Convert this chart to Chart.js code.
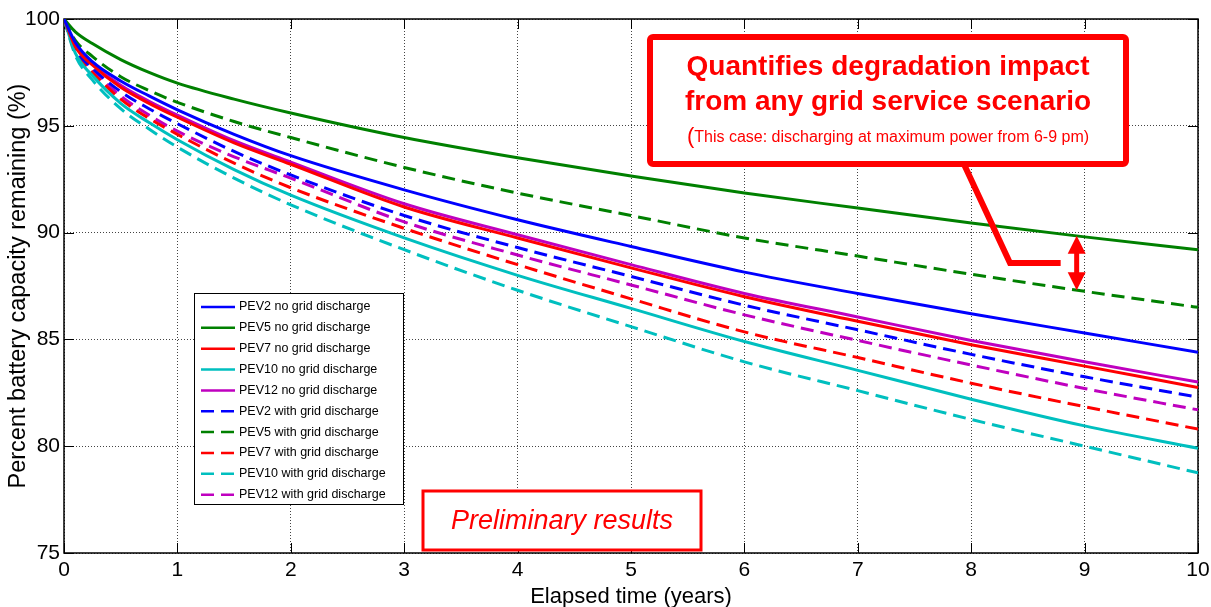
<!DOCTYPE html>
<html>
<head>
<meta charset="utf-8">
<script src="https://cdn.jsdelivr.net/npm/chart.js@4.4.1/dist/chart.umd.min.js"></script>
<style>
html, body { margin: 0; padding: 0; background: #fff; }
#wrap { width: 1211px; height: 607px; }
</style>
</head>
<body>
<div id="wrap"><canvas id="chart"></canvas></div>
<script>
const years = [0, 0.1, 0.25, 0.5, 0.75, 1, 1.5, 2, 3, 4, 5, 6, 7, 8, 9, 10];

// no grid discharge
const pev2NoGrid  = [100, 98.9, 98.0, 97.1, 96.4, 95.75, 94.6, 93.6, 92.0, 90.6, 89.35, 88.15, 87.15, 86.2, 85.3, 84.4];
const pev5NoGrid  = [100, 99.4, 98.85, 98.1, 97.5, 97.0, 96.25, 95.6, 94.45, 93.5, 92.65, 91.85, 91.15, 90.45, 89.8, 89.2];
const pev7NoGrid  = [100, 98.7, 97.85, 96.8, 96.05, 95.4, 94.2, 93.2, 91.2, 89.75, 88.35, 87.0, 85.85, 84.75, 83.75, 82.75];
const pev10NoGrid = [100, 98.4, 97.35, 96.05, 95.15, 94.35, 92.95, 91.75, 89.75, 88.0, 86.45, 84.9, 83.55, 82.2, 80.95, 79.9];
const pev12NoGrid = [100, 98.75, 97.9, 96.9, 96.15, 95.5, 94.3, 93.3, 91.35, 89.9, 88.5, 87.15, 86.05, 84.95, 83.95, 83.0];

// with grid discharge
const pev2Grid  = [100, 98.6, 97.7, 96.6, 95.8, 95.1, 93.8, 92.7, 90.8, 89.3, 87.95, 86.6, 85.45, 84.3, 83.25, 82.3];
const pev5Grid  = [100, 99.0, 98.25, 97.3, 96.65, 96.1, 95.2, 94.45, 93.05, 91.85, 90.8, 89.75, 88.9, 88.05, 87.25, 86.5];
const pev7Grid  = [100, 98.45, 97.5, 96.25, 95.35, 94.6, 93.25, 92.1, 90.2, 88.5, 86.9, 85.35, 84.15, 82.95, 81.85, 80.8];
const pev10Grid = [100, 98.3, 97.15, 95.8, 94.85, 94.0, 92.55, 91.3, 89.2, 87.3, 85.6, 83.95, 82.6, 81.25, 80.0, 78.75];
const pev12Grid = [100, 98.5, 97.6, 96.4, 95.5, 94.75, 93.55, 92.55, 90.5, 88.95, 87.55, 86.15, 84.95, 83.8, 82.7, 81.7];

const seriesLabels = [
    'PEV2 no grid discharge', 'PEV5 no grid discharge', 'PEV7 no grid discharge',
    'PEV10 no grid discharge', 'PEV12 no grid discharge',
    'PEV2 with grid discharge', 'PEV5 with grid discharge', 'PEV7 with grid discharge',
    'PEV10 with grid discharge', 'PEV12 with grid discharge'
];
const seriesValues = [pev2NoGrid, pev5NoGrid, pev7NoGrid, pev10NoGrid, pev12NoGrid,
                      pev2Grid, pev5Grid, pev7Grid, pev10Grid, pev12Grid];
const seriesColors = ['#0000ff', '#008000', '#ff0000', '#00bfbf', '#bf00bf'];

const xTicks = [0, 1, 2, 3, 4, 5, 6, 7, 8, 9, 10];
const yTicks = [75, 80, 85, 90, 95, 100];

// double arrow between PEV5 curves
const arrowYear = 8.93;
const arrowTop = 89.85;
const arrowBottom = 87.3;

const FONT = '"Liberation Sans", Arial, Helvetica, sans-serif';
Chart.defaults.font.family = FONT;

function strokeLine(ctx, x1, y1, x2, y2) {
    ctx.beginPath();
    ctx.moveTo(x1, y1);
    ctx.lineTo(x2, y2);
    ctx.stroke();
}

// box around the plot and inward tick marks
const frameTicks = {
    id: 'frameTicks',
    beforeDatasetsDraw(chart) {
        const { ctx, chartArea: a, scales: { x, y } } = chart;
        ctx.save();
        ctx.strokeStyle = '#000';
        ctx.lineWidth = 1;
        xTicks.forEach(v => {
            const px = Math.round(x.getPixelForValue(v)) + 0.5;
            strokeLine(ctx, px, a.bottom, px, a.bottom - 10);
            strokeLine(ctx, px, a.top, px, a.top + 10);
        });
        yTicks.forEach(v => {
            const py = Math.round(y.getPixelForValue(v)) + 0.5;
            strokeLine(ctx, a.left, py, a.left + 10, py);
            strokeLine(ctx, a.right, py, a.right - 10, py);
        });
        ctx.lineWidth = 1.5;
        ctx.strokeRect(a.left, a.top, a.right - a.left, a.bottom - a.top);
        ctx.restore();
    }
};

const annotations = {
    id: 'annotations',
    afterDraw(chart) {
        const { ctx, scales: { x, y } } = chart;
        ctx.save();

        // legend box
        const lx = 194, ly = 293, lw = 209, lh = 211;
        ctx.fillStyle = '#fff';
        ctx.fillRect(lx, ly, lw, lh);
        ctx.strokeStyle = '#000';
        ctx.lineWidth = 1;
        ctx.strokeRect(lx + 0.5, ly + 0.5, lw, lh);
        chart.data.datasets.forEach((ds, i) => {
            const yy = ly + 14 + i * 20.85;
            ctx.strokeStyle = ds.borderColor;
            ctx.lineWidth = 2.5;
            ctx.setLineDash(ds.borderDash && ds.borderDash.length ? [13, 7] : []);
            strokeLine(ctx, 201, yy, 235, yy);
            ctx.setLineDash([]);
            ctx.fillStyle = '#000';
            ctx.font = '12.5px ' + FONT;
            ctx.textAlign = 'left';
            ctx.textBaseline = 'middle';
            ctx.fillText(ds.label, 239, yy);
        });

        // double headed arrow
        const ax = x.getPixelForValue(arrowYear);
        const at = y.getPixelForValue(arrowTop);
        const ab = y.getPixelForValue(arrowBottom);
        const mid = (at + ab) / 2;
        ctx.fillStyle = '#ff0000';
        ctx.strokeStyle = '#ff0000';
        ctx.lineWidth = 5;
        strokeLine(ctx, ax, at + 14, ax, ab - 14);
        ctx.beginPath();
        ctx.moveTo(ax, at); ctx.lineTo(ax - 9, at + 18); ctx.lineTo(ax + 9, at + 18); ctx.closePath();
        ctx.fill();
        ctx.beginPath();
        ctx.moveTo(ax, ab); ctx.lineTo(ax - 9, ab - 18); ctx.lineTo(ax + 9, ab - 18); ctx.closePath();
        ctx.fill();

        // callout line
        ctx.lineWidth = 6;
        ctx.lineJoin = 'miter';
        ctx.beginPath();
        ctx.moveTo(962, 160);
        ctx.lineTo(1010, mid);
        ctx.lineTo(ax - 16, mid);
        ctx.stroke();

        // main note box
        const bx = 650, by = 37, bw = 476, bh = 127;
        ctx.fillStyle = '#fff';
        ctx.beginPath();
        ctx.roundRect(bx, by, bw, bh, 3);
        ctx.fill();
        ctx.lineWidth = 6;
        ctx.strokeStyle = '#ff0000';
        ctx.stroke();
        ctx.fillStyle = '#ff0000';
        ctx.textAlign = 'center';
        ctx.textBaseline = 'middle';
        ctx.font = 'bold 28px ' + FONT;
        ctx.fillText('Quantifies degradation impact', bx + bw / 2, 67);
        ctx.fillText('from any grid service scenario', bx + bw / 2, 102);
        ctx.font = '16px ' + FONT;
        const sub = 'This case: discharging at maximum power from 6-9 pm)';
        const subW = ctx.measureText(sub).width;
        ctx.font = '22px ' + FONT;
        const parW = ctx.measureText('(').width;
        const sx = bx + bw / 2 - (subW + parW) / 2;
        ctx.textAlign = 'left';
        ctx.fillText('(', sx, 137);
        ctx.font = '16px ' + FONT;
        ctx.fillText(sub, sx + parW, 138);

        // preliminary results box
        ctx.fillStyle = '#fff';
        ctx.fillRect(423, 491, 278, 59);
        ctx.strokeStyle = '#ff0000';
        ctx.lineWidth = 3;
        ctx.strokeRect(423, 491, 278, 59);
        ctx.fillStyle = '#ff0000';
        ctx.textAlign = 'center';
        ctx.font = 'italic 27px ' + FONT;
        ctx.fillText('Preliminary results', 562, 521);

        ctx.restore();
    }
};

const datasets = seriesValues.map((vals, i) => ({
    label: seriesLabels[i],
    data: years.map((t, k) => ({ x: t, y: vals[k] })),
    borderColor: seriesColors[i % 5],
    backgroundColor: seriesColors[i % 5],
    borderWidth: 3,
    borderDash: i >= 5 ? [13, 7] : [],
    pointRadius: 0,
    fill: false,
    cubicInterpolationMode: 'monotone'
}));

new Chart(document.getElementById('chart'), {
    type: 'line',
    data: { datasets: datasets },
    options: {
        responsive: true,
        maintainAspectRatio: false,
        animation: false,
        layout: { padding: { top: 19, right: 13, left: 0, bottom: 0 } },
        plugins: {
            legend: { display: false },
            tooltip: { enabled: false }
        },
        scales: {
            x: {
                type: 'linear',
                min: 0,
                max: 10,
                afterFit: scale => {
                    scale.height = 54;
                    scale.paddingLeft = 0;
                    scale.paddingRight = 0;
                },
                afterBuildTicks: scale => { scale.ticks = xTicks.map(v => ({ value: v })); },
                ticks: { color: '#000', font: { size: 21 }, padding: 5, maxRotation: 0 },
                grid: { color: '#444', lineWidth: 1, drawTicks: false },
                border: { display: false, dash: [1, 2] },
                title: {
                    display: true,
                    text: 'Elapsed time (years)',
                    color: '#000',
                    font: { size: 22 },
                    padding: { top: 0, bottom: -3 }
                }
            },
            y: {
                min: 75,
                max: 100,
                afterFit: scale => {
                    scale.width = 64;
                    scale.paddingTop = 0;
                    scale.paddingBottom = 0;
                },
                afterBuildTicks: scale => { scale.ticks = yTicks.map(v => ({ value: v })); },
                ticks: { color: '#000', font: { size: 21 }, padding: 4 },
                grid: { color: '#444', lineWidth: 1, drawTicks: false },
                border: { display: false, dash: [1, 2] },
                title: {
                    display: true,
                    text: 'Percent battery capacity remaining (%)',
                    color: '#000',
                    font: { size: 23.5 },
                    padding: { top: 4, bottom: 0 }
                }
            }
        }
    },
    plugins: [frameTicks, annotations]
});
</script>
</body>
</html>
